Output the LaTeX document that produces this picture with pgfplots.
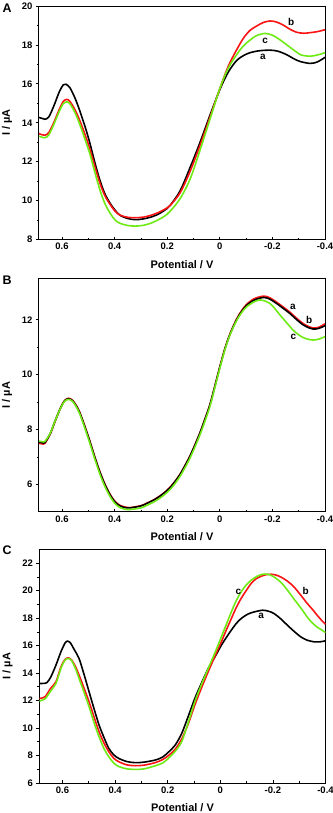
\documentclass[border=0pt]{standalone}
\usepackage{pgfplots}
\pgfplotsset{compat=1.18}
\usepackage{fontspec}
\setmainfont{Liberation Sans}

\definecolor{cred}{RGB}{250,20,20}
\definecolor{cgreen}{RGB}{110,235,20}

\tikzset{lab/.style={font=\bfseries\fontsize{10}{11}\selectfont}}

\pgfplotsset{
  panel/.style={
    scale only axis, width=286bp, height=233.5bp,
    x dir=reverse, xmin=-0.4, xmax=0.6875,
    xtick={0.6,0.4,0.2,0,-0.2,-0.4},
    xticklabels={0.6,0.4,0.2,0,-0.2,-0.4},
    minor x tick num=1, minor y tick num=1,
    xtick pos=bottom, ytick pos=left,
    x tick style={line width=0.8bp, black}, y tick style={line width=0.8bp, black},
    xtick align=inside, ytick align=outside,
    major tick length=3bp, minor tick length=2bp,
    axis line style={line width=1bp},
    tick label style={font=\bfseries\fontsize{9.5}{10}\selectfont},
    /pgf/number format/assume math mode=true,
    yticklabel={\pgfmathprintnumber[fixed]{\tick}},
    xlabel={Potential / V}, ylabel={I / µA},
    label style={font=\bfseries\fontsize{11}{12}\selectfont},
    xlabel style={at={(axis description cs:0.5,-0.107)}, anchor=center},
    ylabel style={at={(axis description cs:-0.112,0.5)}, anchor=center},
    every axis plot/.append style={line width=1.6bp, smooth, no marks},
  },
}

\begin{document}
\begin{tikzpicture}
\useasboundingbox (0,0) rectangle (333bp,-813bp);

% ---------- A ----------
\begin{axis}[panel, at={(39bp,-6bp)}, anchor=north west,
  ymin=8, ymax=20, ytick={8,10,...,20}]
\addplot[black] table {
x y
0.6875 14.27
0.675 14.22
0.665 14.18
0.65 14.30
0.63 14.90
0.61 15.60
0.595 15.95
0.585 15.98
0.57 15.80
0.55 15.25
0.532 14.60
0.51 13.70
0.494 12.95
0.475 11.95
0.456 11.05
0.437 10.35
0.417 9.86
0.398 9.50
0.379 9.24
0.35 9.08
0.322 9.02
0.29 9.06
0.26 9.16
0.24 9.26
0.21 9.50
0.189 9.75
0.151 10.50
0.113 11.70
0.075 13.00
0.037 14.40
0.0 15.70
-0.032 16.60
-0.064 17.20
-0.09 17.45
-0.115 17.60
-0.15 17.70
-0.191 17.73
-0.22 17.68
-0.254 17.50
-0.28 17.30
-0.305 17.15
-0.343 17.05
-0.37 17.12
-0.4 17.36
};
\addplot[cred] table {
x y
0.6875 13.44
0.675 13.38
0.665 13.36
0.65 13.50
0.63 14.05
0.61 14.70
0.595 15.10
0.582 15.20
0.57 15.10
0.55 14.65
0.532 14.10
0.51 13.30
0.494 12.65
0.475 11.75
0.456 10.90
0.437 10.25
0.417 9.80
0.398 9.45
0.379 9.25
0.35 9.14
0.322 9.12
0.29 9.15
0.26 9.25
0.24 9.35
0.21 9.55
0.189 9.75
0.151 10.40
0.113 11.50
0.075 12.85
0.037 14.30
0.0 15.75
-0.032 16.90
-0.064 17.75
-0.09 18.35
-0.115 18.75
-0.14 18.97
-0.165 19.15
-0.191 19.23
-0.215 19.18
-0.241 19.02
-0.265 18.82
-0.292 18.65
-0.32 18.60
-0.343 18.63
-0.37 18.68
-0.4 18.78
};
\addplot[cgreen] table {
x y
0.6875 13.31
0.675 13.25
0.665 13.23
0.65 13.38
0.63 13.95
0.61 14.60
0.595 14.98
0.582 15.07
0.57 14.98
0.55 14.50
0.532 13.90
0.51 13.05
0.494 12.40
0.475 11.45
0.456 10.55
0.437 9.85
0.417 9.35
0.398 9.00
0.379 8.83
0.35 8.72
0.322 8.69
0.29 8.73
0.26 8.85
0.24 8.97
0.21 9.20
0.189 9.45
0.151 10.10
0.113 11.10
0.075 12.60
0.037 14.20
0.0 15.76
-0.032 16.80
-0.064 17.50
-0.09 17.95
-0.115 18.25
-0.14 18.48
-0.172 18.59
-0.2 18.50
-0.23 18.25
-0.26 17.95
-0.29 17.65
-0.31 17.48
-0.343 17.42
-0.37 17.48
-0.4 17.60
};
\node[lab] at (axis cs:-0.271,19.18) {b};
\node[lab] at (axis cs:-0.172,18.2) {c};
\node[lab] at (axis cs:-0.164,17.37) {a};
\end{axis}

% ---------- B ----------
\begin{axis}[panel, at={(39bp,-278.5bp)}, anchor=north west,
  ymin=5, ymax=13.5, ytick={6,8,10,12}]
\addplot[cred] table {
x y
0.6875 7.50
0.675 7.48
0.665 7.50
0.645 7.83
0.625 8.33
0.605 8.80
0.59 9.06
0.575 9.14
0.56 9.07
0.545 8.87
0.532 8.62
0.513 8.12
0.494 7.58
0.475 7.00
0.456 6.47
0.437 6.02
0.417 5.64
0.398 5.38
0.379 5.24
0.36 5.18
0.341 5.16
0.3 5.23
0.278 5.32
0.25 5.45
0.227 5.59
0.208 5.73
0.189 5.90
0.17 6.12
0.151 6.38
0.132 6.70
0.113 7.05
0.094 7.46
0.075 7.90
0.056 8.40
0.037 8.93
0.018 9.62
-0.001 10.32
-0.02 10.97
-0.04 11.52
-0.064 12.03
-0.083 12.33
-0.102 12.56
-0.13 12.76
-0.166 12.86
-0.19 12.80
-0.216 12.64
-0.24 12.47
-0.266 12.28
-0.29 12.07
-0.317 11.86
-0.34 11.74
-0.355 11.70
-0.375 11.72
-0.4 11.85
};
\addplot[black] table {
x y
0.6875 7.55
0.675 7.52
0.665 7.53
0.645 7.85
0.625 8.35
0.605 8.80
0.59 9.05
0.575 9.12
0.56 9.05
0.545 8.85
0.532 8.60
0.513 8.10
0.494 7.56
0.475 6.98
0.456 6.45
0.437 6.00
0.417 5.62
0.398 5.36
0.379 5.22
0.36 5.16
0.341 5.15
0.3 5.22
0.278 5.31
0.25 5.44
0.227 5.58
0.208 5.72
0.189 5.89
0.17 6.11
0.151 6.37
0.132 6.69
0.113 7.04
0.094 7.45
0.075 7.89
0.056 8.39
0.037 8.92
0.018 9.61
-0.001 10.31
-0.02 10.96
-0.04 11.50
-0.064 12.00
-0.083 12.30
-0.102 12.52
-0.13 12.71
-0.166 12.81
-0.19 12.75
-0.216 12.59
-0.24 12.42
-0.266 12.23
-0.29 12.02
-0.317 11.81
-0.34 11.70
-0.355 11.66
-0.375 11.68
-0.4 11.78
};
\addplot[cgreen] table {
x y
0.6875 7.58
0.675 7.56
0.665 7.57
0.645 7.86
0.625 8.35
0.605 8.79
0.59 9.03
0.575 9.10
0.56 9.03
0.545 8.82
0.532 8.56
0.513 8.05
0.494 7.50
0.475 6.92
0.456 6.38
0.437 5.93
0.417 5.56
0.398 5.30
0.379 5.16
0.36 5.10
0.341 5.09
0.3 5.15
0.278 5.24
0.25 5.37
0.227 5.51
0.208 5.65
0.189 5.82
0.17 6.04
0.151 6.30
0.132 6.62
0.113 6.97
0.094 7.38
0.075 7.82
0.056 8.32
0.037 8.86
0.018 9.56
-0.001 10.27
-0.02 10.93
-0.04 11.48
-0.064 11.97
-0.083 12.26
-0.102 12.47
-0.13 12.65
-0.153 12.72
-0.175 12.67
-0.191 12.59
-0.21 12.40
-0.229 12.17
-0.255 11.88
-0.279 11.62
-0.3 11.45
-0.317 11.35
-0.335 11.29
-0.355 11.26
-0.375 11.29
-0.4 11.38
};
\node[lab] at (axis cs:-0.278,12.46) {a};
\node[lab] at (axis cs:-0.34,11.98) {b};
\node[lab] at (axis cs:-0.28,11.37) {c};
\end{axis}

% ---------- C ----------
\begin{axis}[panel, at={(39.5bp,-549.5bp)}, anchor=north west,
  ymin=6, ymax=23, ytick={6,8,...,22}]
\addplot[black] table {
x y
0.6875 13.24
0.675 13.25
0.66 13.30
0.645 13.70
0.625 14.58
0.605 15.60
0.59 16.20
0.581 16.33
0.57 16.20
0.555 15.70
0.537 15.06
0.518 13.90
0.499 12.64
0.48 11.40
0.461 10.22
0.442 9.30
0.424 8.52
0.405 8.05
0.386 7.79
0.355 7.56
0.323 7.48
0.29 7.52
0.248 7.67
0.22 7.88
0.197 8.25
0.172 8.75
0.147 9.60
0.122 10.85
0.097 12.15
0.072 13.25
0.046 14.33
0.02 15.20
-0.004 16.03
-0.023 16.60
-0.042 17.13
-0.06 17.60
-0.079 17.97
-0.105 18.30
-0.13 18.46
-0.161 18.58
-0.185 18.50
-0.205 18.33
-0.23 17.95
-0.255 17.49
-0.28 17.05
-0.306 16.64
-0.33 16.40
-0.356 16.28
-0.375 16.27
-0.4 16.35
};
\addplot[cred] table {
x y
0.6875 12.15
0.675 12.20
0.665 12.30
0.645 12.90
0.625 13.37
0.605 14.50
0.59 15.00
0.577 15.11
0.565 14.95
0.55 14.45
0.537 13.85
0.518 12.90
0.499 11.91
0.48 10.80
0.461 9.73
0.442 8.90
0.424 8.28
0.405 7.80
0.386 7.55
0.355 7.32
0.323 7.26
0.29 7.30
0.248 7.48
0.22 7.70
0.197 8.00
0.172 8.45
0.147 9.20
0.122 10.30
0.097 11.67
0.072 12.90
0.046 14.10
0.02 15.25
-0.004 16.28
-0.023 17.15
-0.042 17.97
-0.06 18.75
-0.079 19.43
-0.098 20.00
-0.117 20.52
-0.135 20.85
-0.155 21.05
-0.175 21.17
-0.192 21.20
-0.21 21.15
-0.23 21.00
-0.255 20.70
-0.28 20.28
-0.305 19.70
-0.331 19.06
-0.35 18.65
-0.368 18.22
-0.385 17.85
-0.4 17.55
};
\addplot[cgreen] table {
x y
0.6875 11.96
0.675 12.05
0.665 12.15
0.645 12.70
0.625 13.25
0.605 14.40
0.59 14.95
0.577 15.06
0.565 14.90
0.55 14.30
0.537 13.61
0.518 12.60
0.499 11.55
0.48 10.40
0.461 9.37
0.442 8.50
0.424 7.91
0.405 7.45
0.386 7.20
0.355 7.03
0.32 6.99
0.29 7.03
0.248 7.25
0.22 7.45
0.197 7.80
0.172 8.30
0.147 9.00
0.122 10.40
0.097 11.91
0.072 13.15
0.046 14.33
0.02 15.50
-0.004 16.64
-0.023 17.55
-0.042 18.46
-0.06 19.25
-0.079 19.91
-0.098 20.40
-0.117 20.76
-0.14 21.05
-0.161 21.20
-0.18 21.20
-0.2 21.05
-0.23 20.62
-0.255 20.05
-0.28 19.40
-0.306 18.75
-0.331 18.07
-0.35 17.65
-0.368 17.35
-0.385 17.15
-0.4 16.95
};
\node[lab] at (axis cs:-0.069,19.93) {c};
\node[lab] at (axis cs:-0.325,20.0) {b};
\node[lab] at (axis cs:-0.155,18.17) {a};
\end{axis}

\node[font=\bfseries\fontsize{12.5}{13}\selectfont] at (7bp,-8bp) {A};
\node[font=\bfseries\fontsize{12.5}{13}\selectfont] at (7bp,-280bp) {B};
\node[font=\bfseries\fontsize{12.5}{13}\selectfont] at (7bp,-550bp) {C};
\end{tikzpicture}
\end{document}
